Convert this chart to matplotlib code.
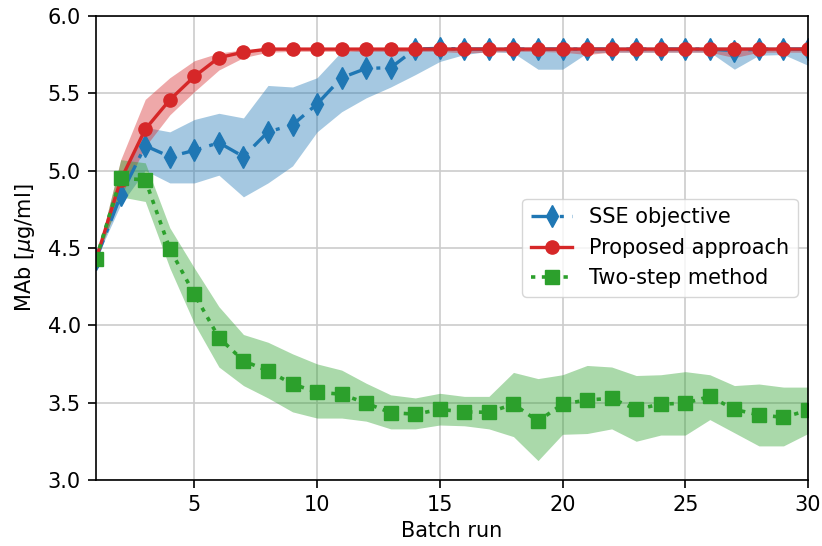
import matplotlib
matplotlib.use("Agg")
import matplotlib.pyplot as plt
import numpy as np

batch = list(range(1, 31))

sse_mean = [4.43, 4.84, 5.16, 5.09, 5.13, 5.18, 5.09, 5.25, 5.295, 5.43, 5.60, 5.66, 5.665, 5.785, 5.79,
            5.785, 5.785, 5.785, 5.785, 5.785, 5.785, 5.785, 5.785, 5.785, 5.785, 5.785, 5.775, 5.785, 5.785, 5.785]
sse_upper = [4.43, 4.95, 5.28, 5.25, 5.33, 5.37, 5.34, 5.55, 5.54, 5.60, 5.77, 5.78, 5.785, 5.795, 5.80,
             5.80, 5.80, 5.80, 5.80, 5.80, 5.80, 5.80, 5.80, 5.80, 5.80, 5.80, 5.80, 5.80, 5.80, 5.80]
sse_lower = [4.43, 4.78, 5.00, 4.92, 4.92, 4.97, 4.83, 4.92, 5.03, 5.25, 5.38, 5.47, 5.54, 5.62, 5.705,
             5.75, 5.77, 5.76, 5.655, 5.655, 5.76, 5.765, 5.765, 5.765, 5.765, 5.765, 5.655, 5.745, 5.75, 5.68]

prop_mean = [4.43, 4.94, 5.267, 5.457, 5.608, 5.73, 5.765, 5.785, 5.785, 5.785, 5.785, 5.785, 5.785, 5.785, 5.785,
             5.785, 5.785, 5.785, 5.785, 5.785, 5.785, 5.785, 5.785, 5.785, 5.785, 5.785, 5.785, 5.785, 5.785, 5.785]
prop_upper = [4.43, 5.07, 5.46, 5.60, 5.71, 5.76, 5.78, 5.79, 5.79, 5.79, 5.79, 5.79, 5.79, 5.79, 5.79,
              5.79, 5.79, 5.79, 5.79, 5.79, 5.79, 5.79, 5.79, 5.79, 5.79, 5.79, 5.79, 5.79, 5.79, 5.79]
prop_lower = [4.43, 4.83, 5.155, 5.36, 5.51, 5.65, 5.73, 5.765, 5.77, 5.77, 5.77, 5.77, 5.77, 5.77, 5.77,
              5.76, 5.765, 5.77, 5.77, 5.765, 5.75, 5.765, 5.765, 5.765, 5.765, 5.765, 5.73, 5.765, 5.765, 5.765]

two_mean = [4.43, 4.95, 4.94, 4.494, 4.20, 3.92, 3.77, 3.705, 3.62, 3.567, 3.554, 3.496, 3.435, 3.425, 3.456,
            3.44, 3.437, 3.49, 3.38, 3.49, 3.517, 3.527, 3.456, 3.49, 3.496, 3.54, 3.456, 3.42, 3.405, 3.45]
two_upper = [4.43, 5.07, 5.05, 4.63, 4.37, 4.12, 3.94, 3.89, 3.815, 3.75, 3.71, 3.625, 3.55, 3.53, 3.56,
             3.54, 3.54, 3.695, 3.655, 3.68, 3.74, 3.73, 3.675, 3.68, 3.70, 3.68, 3.61, 3.62, 3.60, 3.60]
two_lower = [4.43, 4.83, 4.80, 4.37, 4.01, 3.73, 3.61, 3.53, 3.44, 3.40, 3.40, 3.38, 3.33, 3.33, 3.355,
             3.35, 3.33, 3.28, 3.125, 3.295, 3.30, 3.33, 3.25, 3.29, 3.29, 3.39, 3.305, 3.22, 3.22, 3.30]

fig = plt.figure(figsize=(8.22, 5.46), dpi=100)
ax = fig.add_axes([0.117, 0.121, 0.866, 0.850])

c_blue, c_red, c_green = "#1f77b4", "#d62728", "#2ca02c"

ax.fill_between(batch, sse_lower, sse_upper, color=c_blue, alpha=0.4, lw=0)
ax.fill_between(batch, prop_lower, prop_upper, color=c_red, alpha=0.4, lw=0)
ax.fill_between(batch, two_lower, two_upper, color=c_green, alpha=0.4, lw=0)

ax.plot(batch, sse_mean, color=c_blue, ls=(0, (6, 2.5, 1.2, 2.5)), marker="d", ms=11, lw=2.4,
        label="SSE objective")
ax.plot(batch, prop_mean, color=c_red, ls="-", marker="o", ms=9.5, lw=2.4, label="Proposed approach")
ax.plot(batch, two_mean, color=c_green, ls=(0, (1.2, 1.8)), marker="s", ms=9.5, lw=2.6,
        label="Two-step method")

ax.set_xlim(1, 30)
ax.set_ylim(3.0, 6.0)
ax.set_xticks([5, 10, 15, 20, 25, 30])
ax.set_yticks([3.0, 3.5, 4.0, 4.5, 5.0, 5.5, 6.0])
ax.grid(True, color="#cccccc", lw=1.2)
ax.set_axisbelow(True)
for s in ax.spines.values():
    s.set_linewidth(1.2)
ax.tick_params(labelsize=15, direction="out", length=6, width=1.2, pad=5)
ax.set_xlabel("Batch run", fontsize=15)
ax.set_ylabel(r"MAb [$\mu$g/ml]", fontsize=15, labelpad=8)
ax.legend(loc="center right", bbox_to_anchor=(1.0, 0.50), fontsize=15)

fig.savefig("out.png", dpi=100)
